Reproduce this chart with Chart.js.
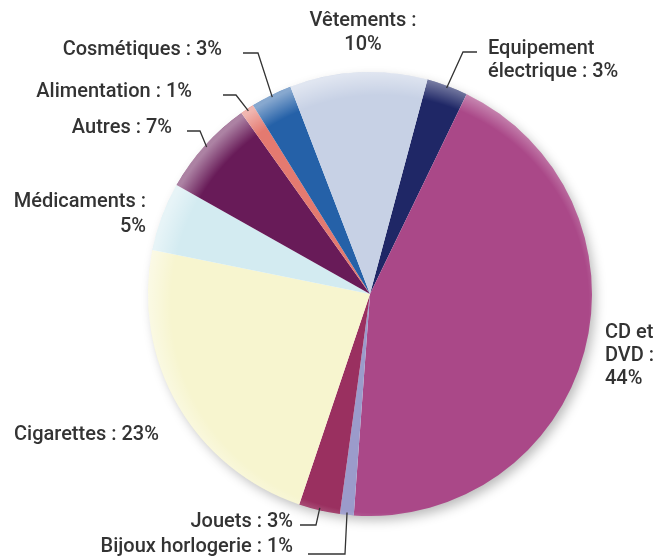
<!DOCTYPE html>
<html lang="fr">
<head>
<meta charset="utf-8">
<title>Répartition des saisies</title>
<script src="https://cdn.jsdelivr.net/npm/chart.js@4.4.1/dist/chart.umd.min.js"></script>
<style>
  html, body { margin: 0; padding: 0; background: #ffffff; }
  #wrap { width: 659px; height: 560px; }
</style>
</head>
<body>
<div id="wrap"><canvas id="pie" width="659" height="560"></canvas></div>
<script>
/* ── DATA ─────────────────────────────────────────────────── */
const categories = [
  'Equipement électrique', 'CD et DVD', 'Bijoux horlogerie', 'Jouets',
  'Cigarettes', 'Médicaments', 'Autres', 'Alimentation', 'Cosmétiques', 'Vêtements'
];
const values = [3, 44, 1, 3, 23, 5, 7, 1, 3, 10];
const sliceColors = [
  '#1f2766', '#aa4888', '#9b9bcb', '#9a3060', '#f7f5cf',
  '#d3ebf1', '#681b58', '#e47a70', '#2561a8', '#c7d1e5'
];

/* ── LABEL LAYOUT (text lines, anchor, leader elbow) ──────── */
// {v} is replaced by the slice value
const labelLayout = [
  { lines: ['Equipement', 'électrique : {v}%'], x: 488, y: [49, 72], align: 'left', leader: [[477, 52], [463, 52]] },
  { lines: ['CD et', 'DVD :', '{v}%'], x: 605, y: [333, 356, 379], align: 'left' },
  { lines: ['Bijoux horlogerie : {v}%'], x: 293, y: [547], align: 'right', leader: [[308, 554], [345, 554]] },
  { lines: ['Jouets : {v}%'], x: 293, y: [522], align: 'right', leader: [[300, 525], [316, 525]] },
  { lines: ['Cigarettes : {v}%'], x: 14, y: [435], align: 'left' },
  { lines: ['Médicaments :', '{v}%'], x: 146, y: [202, 227], align: 'right' },
  { lines: ['Autres : {v}%'], x: 172, y: [128], align: 'right', leader: [[187, 131], [200, 131]] },
  { lines: ['Alimentation : {v}%'], x: 192, y: [92], align: 'right', leader: [[223, 95], [236, 95]] },
  { lines: ['Cosmétiques : {v}%'], x: 222, y: [50], align: 'right', leader: [[243, 53], [258, 53]] },
  { lines: ['Vêtements :', '{v}%'], x: 363, y: [21, 45], align: 'center' }
];

/* ── SHADOW + RIM HIGHLIGHT ───────────────────────────────── */
const pieShading = {
  id: 'pieShading',
  beforeDatasetsDraw(chart) {
    const arc = chart.getDatasetMeta(0).data[0];
    if (!arc) return;
    const ctx = chart.ctx;
    ctx.save();
    ctx.shadowColor = 'rgba(0,0,0,0.28)';
    ctx.shadowBlur = 12;
    ctx.shadowOffsetX = 4;
    ctx.shadowOffsetY = 5;
    ctx.fillStyle = '#ffffff';
    ctx.beginPath();
    ctx.arc(arc.x, arc.y, arc.outerRadius - 1, 0, Math.PI * 2);
    ctx.fill();
    ctx.restore();
  },
  afterDatasetsDraw(chart) {
    const arc = chart.getDatasetMeta(0).data[0];
    if (!arc) return;
    const ctx = chart.ctx;
    const r = arc.outerRadius;
    ctx.save();
    ctx.beginPath();
    ctx.arc(arc.x, arc.y, r, 0, Math.PI * 2);
    ctx.clip();
    const g = ctx.createRadialGradient(arc.x + 10, arc.y + 10, 0, arc.x + 10, arc.y + 10, r + 10);
    g.addColorStop(0, 'rgba(255,255,255,0)');
    g.addColorStop(0.9, 'rgba(255,255,255,0)');
    g.addColorStop(1, 'rgba(255,255,255,0.45)');
    ctx.fillStyle = g;
    ctx.fillRect(arc.x - r, arc.y - r, 2 * r, 2 * r);
    ctx.restore();
  }
};

/* ── OUTSIDE LABELS WITH LEADER LINES ─────────────────────── */
const outsideLabels = {
  id: 'outsideLabels',
  afterDraw(chart) {
    const ctx = chart.ctx;
    const meta = chart.getDatasetMeta(0);
    ctx.save();
    ctx.font = '500 20px Roboto, "DejaVu Sans", sans-serif';
    ctx.fillStyle = '#333333';
    ctx.textBaseline = 'middle';
    ctx.strokeStyle = '#333333';
    ctx.lineWidth = 1.3;

    labelLayout.forEach((lab, i) => {
      const el = meta.data[i];
      if (!el) return;
      ctx.textAlign = lab.align;
      lab.lines.forEach((t, k) => {
        ctx.fillText(t.replace('{v}', values[i]), lab.x, lab.y[k]);
      });
      if (lab.leader) {
        const mid = (el.startAngle + el.endAngle) / 2;
        const rr = el.outerRadius * 0.99;
        const ex = el.x + Math.cos(mid) * rr;
        const ey = el.y + Math.sin(mid) * rr;
        ctx.beginPath();
        ctx.moveTo(lab.leader[0][0], lab.leader[0][1]);
        for (let p = 1; p < lab.leader.length; p++) ctx.lineTo(lab.leader[p][0], lab.leader[p][1]);
        ctx.lineTo(ex, ey);
        ctx.stroke();
      }
    });
    ctx.restore();
  }
};

/* ── PIE CHART ────────────────────────────────────────────── */
new Chart(document.getElementById('pie'), {
  type: 'pie',
  data: {
    labels: categories,
    datasets: [{
      data: values,
      backgroundColor: sliceColors,
      borderWidth: 0
    }]
  },
  options: {
    responsive: false,
    animation: false,
    rotation: 15,
    layout: { padding: { left: 148, right: 67, top: 72, bottom: 44 } },
    plugins: {
      legend: { display: false },
      tooltip: { enabled: false }
    }
  },
  plugins: [pieShading, outsideLabels]
});
</script>
</body>
</html>
